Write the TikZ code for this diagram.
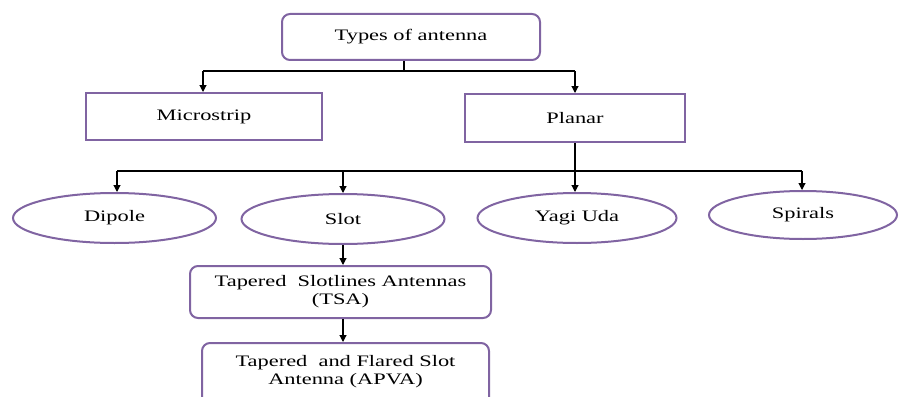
\documentclass[tikz,border=0pt]{standalone}
\usepackage{fontspec}
\setmainfont{Liberation Serif}[FakeStretch=1.4]
\usetikzlibrary{arrows.meta,shapes.geometric}
\definecolor{bord}{RGB}{128,100,162}
\begin{document}
\begin{tikzpicture}[x=1pt,y=-1pt,
  txt/.style={font=\fontsize{16}{18}\selectfont},
  rbox/.style={txt,draw=bord,line width=2pt,rounded corners=8pt,fill=white,inner sep=0pt,align=center},
  sbox/.style={txt,draw=bord,line width=2pt,fill=white,inner sep=0pt,align=center},
  ell/.style={txt,draw=bord,line width=2pt,ellipse,fill=white,inner sep=0pt},
  conn/.style={line width=1.1pt,black},
  arr/.style={conn,-{Triangle[length=7pt,width=7pt]}}]
\useasboundingbox (0,0) rectangle (904,396);
\begin{scope}
\clip (0,0) rectangle (904,396);
\node[rbox,minimum width=258pt,minimum height=46pt] (top) at (411,37) {Types of antenna};
\node[sbox,minimum width=236pt,minimum height=47pt] (micro) at (204,116.5) {Microstrip};
\node[sbox,minimum width=220pt,minimum height=48pt] (planar) at (575,118) {Planar};
\node[ell,minimum width=203pt,minimum height=50pt] (dip) at (114.5,218) {Dipole};
\node[ell,minimum width=203pt,minimum height=50pt] (slot) at (343,219) {Slot};
\node[ell,minimum width=199pt,minimum height=50pt] (yagi) at (577,218) {Yagi Uda};
\node[ell,minimum width=188pt,minimum height=48pt] (spir) at (803,215) {Spirals};
\node[rbox,minimum width=301pt,minimum height=52pt] (tsa) at (340.5,292) {Tapered\ \ Slotlines Antennas\\(TSA)};
\node[rbox,minimum width=287pt,minimum height=64pt] (apva) at (345.5,375) {};
\node[txt,align=center] (apvat) at (345.5,372) {Tapered\ \ and Flared Slot\\Antenna (APVA)};
\coordinate (j1) at (404,71);
\coordinate (jl) at (203,71);
\coordinate (jr) at (575,71);
\coordinate (j2) at (575,171);
\coordinate (kl) at (117,171);
\coordinate (kr) at (802,171);
\coordinate (k2) at (343,171);
\draw[conn] (top.south -| j1) -- (j1);
\draw[conn] (jl) -- (jr);
\draw[arr] (jl) -- (jl |- micro.north);
\draw[arr] (jr) -- (planar.north);
\draw[conn] (planar.south) -- (j2);
\draw[conn] (kl) -- (kr);
\draw[arr] (kl) -- (kl |- dip.north);
\draw[arr] (k2) -- (slot.north);
\draw[arr] (j2) -- (j2 |- yagi.north);
\draw[arr] (kr) -- (kr |- spir.north);
\draw[arr] (slot.south) -- (slot.south |- tsa.north);
\draw[arr] (tsa.south -| slot.south) -- (slot.south |- apva.north);
\end{scope}
\end{tikzpicture}
\end{document}
